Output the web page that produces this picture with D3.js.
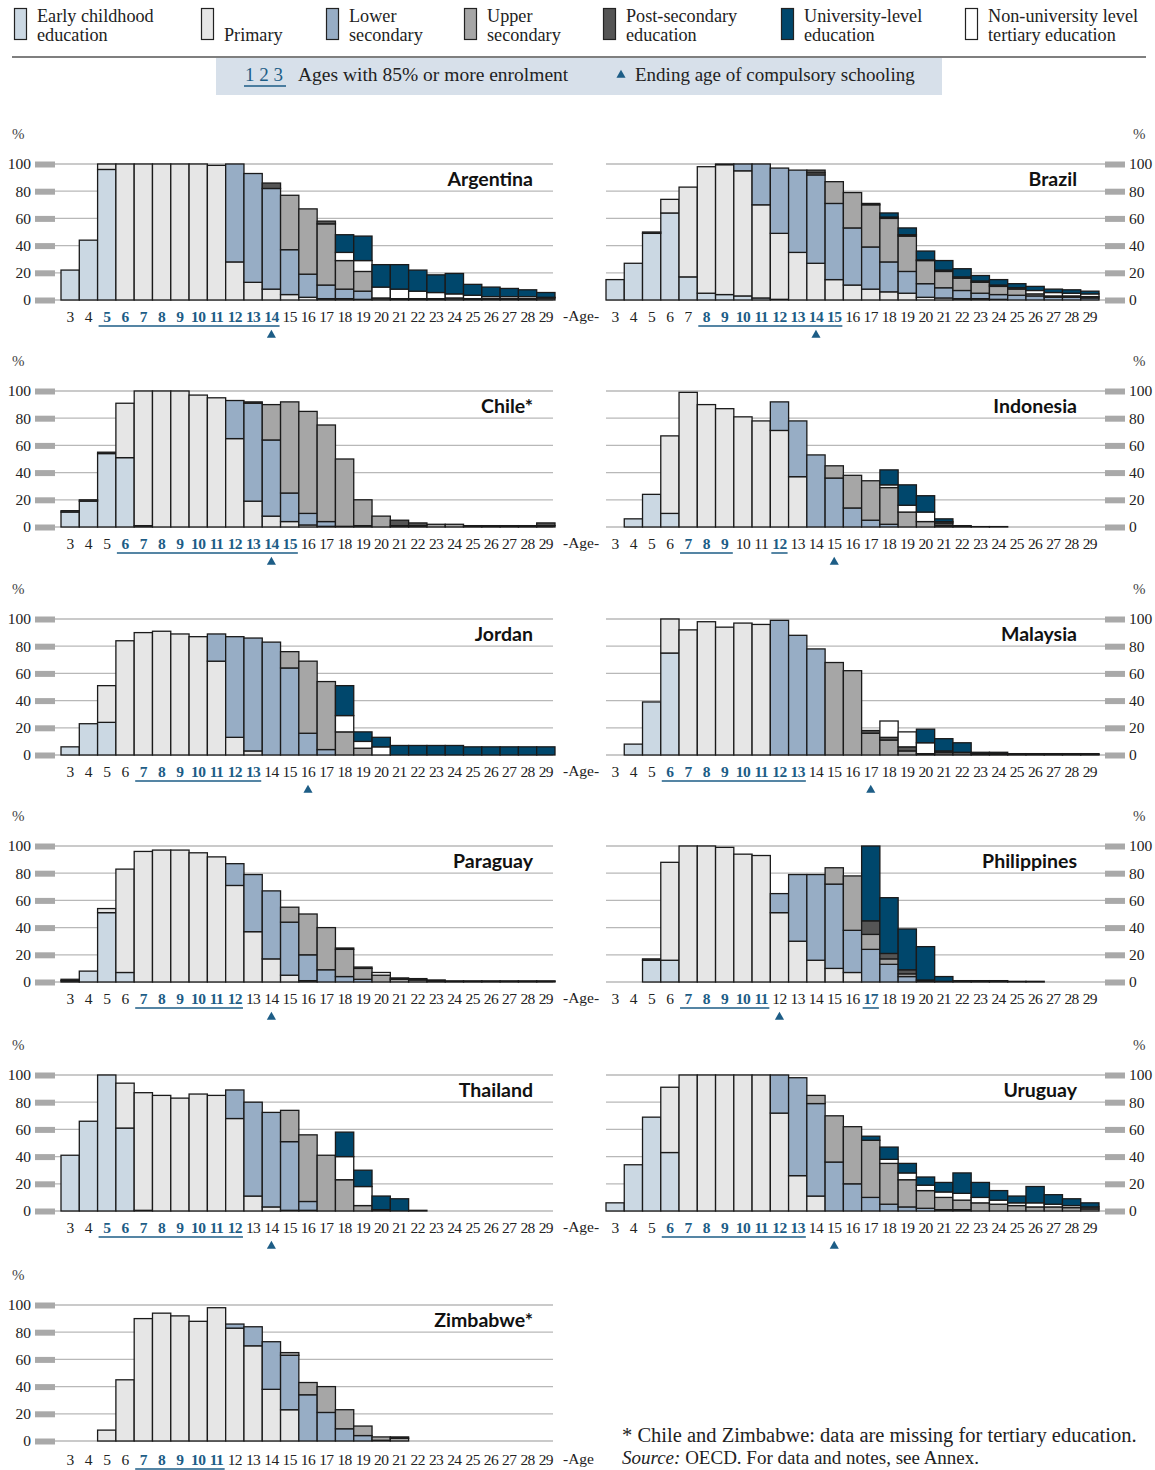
<!DOCTYPE html>
<html><head><meta charset="utf-8">
<script src="https://cdn.jsdelivr.net/npm/d3@7"></script>
<style>
html,body{margin:0;padding:0;background:#fff;}
svg{display:block;}
</style>
</head><body>
<script>
// Ages on the x axis
const ages = d3.range(3, 30);
// Stack order (bottom -> top)
const stackKeys = ["early","primary","lower","upper","post","nonuniv","univ"];
const legendLabels = [
  ["Early childhood","education"],["","Primary"],["Lower","secondary"],["Upper","secondary"],
  ["Post-secondary","education"],["University-level","education"],["Non-university level","tertiary education"]];
const legendKeys = ["early","primary","lower","upper","post","univ","nonuniv"];
const yTicks = [0,20,40,60,80,100];

// Rows per age 3..29: [early, primary, lower sec, upper sec, post-sec, non-univ tertiary, university]
const argentina = [[22],[44],[96,4],[0,100],[0,100],[0,100],[0,100],[0,100],[0,99],[0,28,72],[0,13,80],[0,8,74,0,4],
  [0,4,33,40],[0,2,17,48],[0,1,10,45,2],[0,1,7,21,0,6,13],[0,0.5,6,14.5,0,8,18],[0,0,0,0,1.5,8,16.5],[0,0,0,0,1,7,18],
  [0,0,0,0,1,5.5,15.5],[0,0,0,0,1,4.5,13],[0,0,0,0,1.5,3,15],[0,0,0,0,1,2.5,8],[0,0,0,0,1,1.5,7],[0,0,0,0,1,1.5,6],
  [0,0,0,0,1,1.5,5],[0,0,0,0,1.5,0.5,3.5]];
const brazil = [[15],[27],[49,1],[64,10],[17,66],[5,93],[4,95.5,0.5],[3,92,5],[1.5,68.5,30],[0.5,48.5,48],[0,35,60.5],
  [0,27,65,1.5,2],[0,15,56,16],[0,11,42,26],[0,8,31,31,1],[0,6,22,32,1,0,3],[0,5,16,26,1,0,5],[0,2,10,17,0.5,0,6.5],
  [0,1.5,7.5,12,0,1,7],[0,1,6,9,0,1,6],[0,1,4,8,0,1,4],[0,0.5,3.5,6,0,1,4],[0,0,3.5,4.5,0,1,3],[0,0,3,1.5,0,2.5,3],
  [0,0,2,1,0,2.5,2.5],[0,0,2,1,0,2,2.5],[0,0,1.5,1,0,2,2]];
const chile = [[11,1],[19,1],[54,1],[51,40],[1,99],[0,100],[0,100],[0,97],[0,95],[0,65,28],[0,19,72,1],[0,8,56,26],
  [0,4,21,67],[0,1.5,8.5,75],[0,0.5,3.5,71],[0,0,0.5,49.5],[0,0,1,19],[0,0,0,8],[0,0,0,1,4],[0,0,0,1,2],[0,0,0,2],
  [0,0,0,2],[0,0,0,0.5,0.5],[0,0,0,0.5,0.5],[0,0,0,0.5,0.5],[0,0,0,0.5,0.5],[0,0,0,1,2]];
const indonesia = [[],[6],[24],[10,57],[0,99],[0,90],[0,87],[0,81],[0,78],[0,71,21],[0,37,41],[0,0,53],[0,0,36,9],
  [0,0,14,24],[0,0,5,29],[0,0,2,27,0,2,11],[0,0,0,11,0,5,15],[0,0,0,4,0,7,12],[0,0,0,1,2,1,2],[0,0,0,0,0.5,0,0.5],
  [0,0,0,0,0.3],[0,0,0,0,0.3],[],[],[],[],[]];
const jordan = [[6],[23],[24,27],[0,84],[0,90],[0,91],[0,89],[0,87],[0,69,20],[0,13,74],[0,3,83],[0,0,83],[0,0,64,12],
  [0,0,16,53],[0,0,4,50],[0,0,0,17,0,12,22],[0,0,0,5,0,5,7],[0,0,0,0,0,6,7],[0,0,0,0,0,0,7],[0,0,0,0,0,0,7],
  [0,0,0,0,0,0,7],[0,0,0,0,0,0,7],[0,0,0,0,0,0,6],[0,0,0,0,0,0,6],[0,0,0,0,0,0,6],[0,0,0,0,0,0,6],[0,0,0,0,0,0,6]];
const malaysia = [[],[8],[39],[75,25],[0,92],[0,98],[0,94],[0,97],[0,96],[0,0,99],[0,0,88],[0,0,78],[0,0,0,68],
  [0,0,0,62],[0,0,0,16,2],[0,0,0,11,2,12],[0,0,0,3,3,11],[0,0,0,0,1,8,10],[0,0,0,0,2,1,9],[0,0,0,0,2,0,7],
  [0,0,0,0,1,0,1],[0,0,0,0,1,0,1],[0,0,0,0,0.5,0,0.5],[0,0,0,0,0.5,0,0.5],[0,0,0,0,0.5,0,0.5],[0,0,0,0,0.5,0,0.5],
  [0,0,0,0,0.5,0,0.5]];
const paraguay = [[1,1],[8],[51,3],[7,76],[0,96],[0,97],[0,97],[0,95],[0,92],[0,71,16],[0,37,42],[0,17,50],
  [0,5,39,11],[0,1,19,30],[0,0,9,31],[0,0,4,20,1],[0,0,2,8,0,1],[0,0,0,5,0,2],[0,0,0,2,1],[0,0,0,1.5,1],[0,0,0,1,0.5],
  [0,0,0,0.5,0.3],[0,0,0,0.5,0.3],[0,0,0,0.5,0.3],[0,0,0,0.5,0.3],[0,0,0,0.5,0.3],[0,0,0,0.5,0.3]];
const philippines = [[],[],[16,1],[16,72],[0,100],[0,100],[0,99],[0,94],[0,93],[0,51,14],[0,30,49],[0,16,63],
  [0,10,62,12],[0,7,31,40],[0,0,24,11,10,0,55],[0,0,13,4,4,0,41],[0,0,4,2,3,0,30],[0,0,0.5,0,1,0,24.5],
  [0,0,0.5,0,0,0,3.5],[0,0,0,0,0.5,0,0.5],[0,0,0,0,0.5,0,0.5],[0,0,0,0,0.5,0,0.5],[0,0,0,0,0,0,0.5],[0,0,0,0,0,0,0.5],
  [],[],[]];
const thailand = [[41],[66],[100],[61,33],[0.5,86.5],[0,85],[0,83],[0,86],[0,85],[0,68,21],[0,11,69],[0,3,69.5],
  [0,0.5,50.5,23],[0,0.5,6.5,49],[0,0,0,41],[0,0,0,23,0,17,18],[0,0,0,4,0,14,12],[0,0,0,1,0,0,10],[0,0,0,0,0,0,9],
  [0,0,0,0,0.5],[],[],[],[],[],[],[]];
const uruguay = [[6],[34],[69],[43,48],[0,100],[0,100],[0,100],[0,100],[0,100],[0,72,28],[0,26,72],[0,11,68,6],
  [0,0,36,34],[0,0,20,42],[0,0,10,42,0,0,3],[0,0,5,30,0,3,9],[0,0,3,20,0,5,7],[0,0,2,13,0,4,6],[0,0,1,9,0,4,7],
  [0,0,1,7,0,5,15],[0,0,0,6,0,4,11],[0,0,0,5,0,3,7],[0,0,0,4,0,2,5],[0,0,0,3,0,3,12],[0,0,0,3,0,2,7],
  [0,0,0,2.5,0,1.5,5],[0,0,0,1.5,1.5,0,3]];
const zimbabwe = [[],[],[0,8],[0,45],[0,90],[0,94],[0,92],[0,88],[0,98],[0,83,3],[0,70,14],[0,38,35],[0,23,40,2],
  [0,0,34,9],[0,0,21,19],[0,0,9,14],[0,0,4,7],[0,0,0.5,2.5],[0,0,0,2,1],[],[],[],[],[],[],[],[]];

const countryNames = ["Argentina","Brazil","Chile*","Indonesia","Jordan","Malaysia","Paraguay","Philippines","Thailand","Uruguay","Zimbabwe*"];
const countryData = [argentina,brazil,chile,indonesia,jordan,malaysia,paraguay,philippines,thailand,uruguay,zimbabwe];
// Ages with 85% or more enrolment
const enrolled85 = [d3.range(5,15),d3.range(8,16),d3.range(6,16),[7,8,9,12],d3.range(7,14),d3.range(6,14),
  d3.range(7,13),[7,8,9,10,11,17],d3.range(5,13),d3.range(6,14),d3.range(7,12)];
// Ending age of compulsory schooling
const compulsoryEnd = [14,14,14,15,16,17,14,12,14,15,null];

const colors = {early:"#cbd8e3",primary:"#e6e6e6",lower:"#97adc5",upper:"#a6a6a6",post:"#555555",nonuniv:"#ffffff",univ:"#00476c"};
const BLUE = "#1d5d86";
const SERIF = "'Liberation Serif','DejaVu Serif',serif";
const SANS = "Lato,'Open Sans',sans-serif";

const svg = d3.select("body").append("svg").attr("width",1155).attr("height",1470);

// ---------- legend ----------
const legX = [14,201,326,464,603,781,965];
legendKeys.forEach((k,i)=>{
  const g = svg.append("g").attr("transform",`translate(${legX[i]},0)`);
  g.append("rect").attr("x",0.5).attr("y",8.5).attr("width",12).attr("height",31)
    .attr("fill",colors[k]).attr("stroke","#222").attr("stroke-width",1.2);
  const lines = legendLabels[i];
  if(lines[0]) g.append("text").attr("x",23).attr("y",21.5).text(lines[0])
    .attr("font-family",SERIF).attr("font-size",18.2).attr("fill","#222");
  g.append("text").attr("x",23).attr("y",40.5).text(lines[1])
    .attr("font-family",SERIF).attr("font-size",18.2).attr("fill","#222");
});
svg.append("line").attr("x1",12).attr("x2",1146).attr("y1",57).attr("y2",57).attr("stroke","#555").attr("stroke-width",1.5);
svg.append("rect").attr("x",216).attr("y",58).attr("width",726).attr("height",37).attr("fill","#d7e0ea");
svg.append("text").attr("x",245).attr("y",81).text("1 2 3").attr("font-family",SERIF).attr("font-size",19).attr("fill",BLUE);
svg.append("line").attr("x1",244).attr("x2",286).attr("y1",86).attr("y2",86).attr("stroke",BLUE).attr("stroke-width",1.5);
svg.append("text").attr("x",298).attr("y",81).text("Ages with 85% or more enrolment").attr("font-family",SERIF).attr("font-size",19.5).attr("fill","#222");
svg.append("path").attr("d",d3.symbol(d3.symbolTriangle,36)()).attr("transform","translate(621,75)").attr("fill",BLUE);
svg.append("text").attr("x",635).attr("y",81).text("Ending age of compulsory schooling").attr("font-family",SERIF).attr("font-size",19).attr("fill","#222");

// ---------- panels ----------
const rowTop = [164,391,619,846,1075,1305];
const stack = d3.stack().keys(d3.range(7)).value((d,k)=>d[k]);

countryNames.forEach((name,ci)=>{
  const col = ci % 2, row = Math.floor(ci/2);
  const top = rowTop[row], base = top + 136;
  const xr = col===0 ? [61,555] : [606,1099];
  const x = d3.scaleBand().domain(ages).range(xr).padding(0);
  const y = d3.scaleLinear().domain([0,100]).range([base, top]);
  const g = svg.append("g");

  // gridlines
  const gx1 = col===0 ? 55 : 606, gx2 = col===0 ? 553 : 1105;
  g.selectAll("line.grid").data(yTicks).join("line").attr("class","grid")
    .attr("x1",gx1).attr("x2",gx2).attr("y1",d=>y(d)).attr("y2",d=>y(d))
    .attr("stroke","#b8b8b8").attr("stroke-width",1.3);

  // y axis with thick grey tick marks
  const yAxis = (col===0 ? d3.axisLeft(y) : d3.axisRight(y)).tickValues(yTicks).tickSize(20).tickPadding(4);
  const ya = g.append("g").attr("transform",`translate(${col===0?55:1105},0)`).call(yAxis);
  ya.select(".domain").remove();
  ya.selectAll(".tick line").attr("stroke","#a9a9a9").attr("stroke-width",6);
  ya.selectAll(".tick text").attr("font-family",SERIF).attr("font-size",15.5).attr("fill","#222");
  g.append("text").attr("x",col===0?12:1133).attr("y",top-25).text("%")
    .attr("font-family",SERIF).attr("font-size",15).attr("fill","#444");

  // bars
  const rows = countryData[ci].map(r=>d3.range(7).map(i=>r[i]||0));
  const series = stack(rows);
  series.forEach((s,si)=>{
    g.append("g").selectAll("rect").data(s.map((d,i)=>({d,age:ages[i]})).filter(o=>o.d[1]-o.d[0]>0)).join("rect")
      .attr("x",o=>x(o.age)).attr("width",x.bandwidth())
      .attr("y",o=>y(o.d[1])).attr("height",o=>y(o.d[0])-y(o.d[1]))
      .attr("fill",colors[stackKeys[si]]).attr("stroke","#1a1a1a").attr("stroke-width",1.3);
  });

  // x axis
  const under = new Set(enrolled85[ci]);
  const xa = g.append("g").attr("transform",`translate(0,${base})`)
    .call(d3.axisBottom(x).tickSize(0).tickPadding(row===5?13:11));
  xa.select(".domain").remove();
  xa.selectAll(".tick text").attr("font-family",SERIF).attr("font-size",15.5).attr("letter-spacing",-0.6)
    .attr("fill",d=>under.has(d)?BLUE:"#222").attr("font-weight",d=>under.has(d)?"bold":"normal");

  // underline runs
  const list = enrolled85[ci];
  const runs = [];
  list.forEach(a=>{ const r = runs[runs.length-1]; if(r && r[1]===a-1) r[1]=a; else runs.push([a,a]); });
  const uy = base + (row===5?28:26);
  runs.forEach(r=>{
    g.append("line").attr("x1",x(r[0])+1).attr("x2",x(r[1])+x.bandwidth()-1).attr("y1",uy).attr("y2",uy)
      .attr("stroke",BLUE).attr("stroke-width",1.5);
  });
  if(compulsoryEnd[ci]!=null){
    g.append("path").attr("d",d3.symbol(d3.symbolTriangle,36)())
      .attr("transform",`translate(${x(compulsoryEnd[ci])+x.bandwidth()/2},${base+35})`).attr("fill",BLUE);
  }
  if(col===0){
    g.append("text").attr("x",563).attr("y",base+21+(row===5?2:0)).text(row===5?"-Age":"-Age-")
      .attr("font-family",SERIF).attr("font-size",15.5).attr("fill","#222");
  }
  // title
  g.append("text").attr("x",col===0?533:1077).attr("y",top+22).attr("text-anchor","end").text(name)
    .attr("font-family",SANS).attr("font-weight","bold").attr("font-size",19.5).attr("fill","#111");
});

// footnote
svg.append("text").attr("x",622).attr("y",1442).text("* Chile and Zimbabwe: data are missing for tertiary education.")
  .attr("font-family",SERIF).attr("font-size",20.5).attr("fill","#222");
const src = svg.append("text").attr("x",622).attr("y",1464).attr("font-family",SERIF).attr("font-size",19).attr("fill","#222");
src.append("tspan").attr("font-style","italic").text("Source:");
src.append("tspan").text(" OECD. For data and notes, see Annex.");
</script>
</body></html>
